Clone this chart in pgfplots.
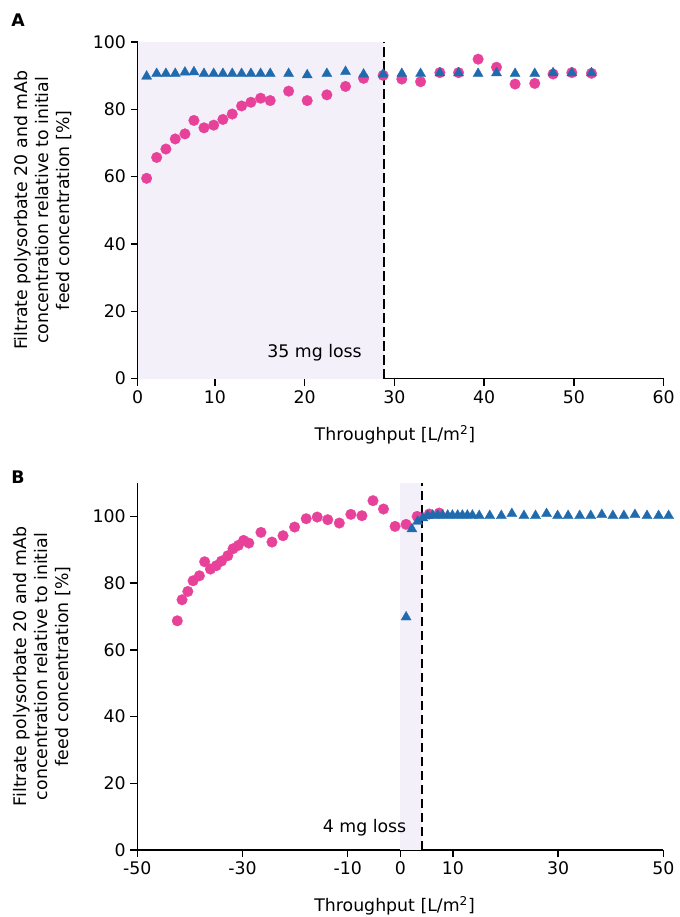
\documentclass[border=0pt]{standalone}
\usepackage{fontspec}
\setmainfont{DejaVu Sans}
\usepackage{pgfplots}
\pgfplotsset{compat=1.18}
\definecolor{cpink}{HTML}{E8419A}
\definecolor{cblue}{HTML}{1F6BAD}
\definecolor{cshade}{HTML}{F3F0FA}
\newcommand{\fs}{\fontsize{13pt}{15.75pt}\selectfont}
\tikzset{dashln/.style={black, line width=1.3pt, dash pattern=on 7pt off 3.5pt}}
\pgfplotsset{
  panel/.style={
    scale only axis,
    width=394.5pt,
    axis x line*=bottom,
    axis y line*=left,
    axis line style={line width=1.1pt, black},
    tick style={line width=1.1pt, black},
    tick align=outside,
    major tick length=5.25pt,
    xtick pos=bottom, ytick pos=left,
    every tick label/.append style={font=\fs},
    clip=false,
    ylabel={Filtrate polysorbate 20 and mAb\\concentration relative to initial\\feed concentration [\%]},
    ylabel style={font=\fs, align=center, at={(axis description cs:-0.117,0.5)}, anchor=south},
    xlabel={Throughput [L/m\textsuperscript{2}]},
    xlabel style={font=\fs, at={(axis description cs:0.489,0)}, anchor=center, yshift=-42pt},
  },
  pinkpts/.style={only marks, mark=*, mark size=4.0pt, color=cpink, mark options={line width=0.2pt}},
  bluepts/.style={only marks, mark=triangle*, mark size=4.4pt, color=cblue, mark options={line width=0.2pt}},
}
\begin{document}
\begin{tikzpicture}
\path[use as bounding box] (0,0) rectangle (510pt,-687.75pt);
% Panel A
\begin{axis}[panel,
  at={(103.3pt,-283.95pt)}, anchor=south west,
  height=252.45pt,
  xmin=1.4, xmax=60, ymin=0, ymax=100,
  xtick={1.4,10,20,30,40,50,60}, xticklabels={0,10,20,30,40,50,60},
  ytick={0,20,40,60,80,100}, yticklabels={0,20,40,60,80,100},
]
\addplot[fill=cshade, draw=none] coordinates {(1.4,0) (28.85,0) (28.85,100) (1.4,100)} -- cycle;
\draw[dashln] (axis cs:28.85,0) -- (axis cs:28.85,100);
\node[font=\fs] at (axis cs:21.1,7.6) {35 mg loss};
\addplot[pinkpts] coordinates {
(2.39,59.5)(3.51,65.7)(4.54,68.2)(5.58,71.2)(6.66,72.7)(7.66,76.7)(8.78,74.5)(9.86,75.3)
(10.89,77.0)(11.93,78.6)(12.97,81.0)(14.01,82.1)(15.09,83.3)(16.16,82.6)(18.21,85.4)(20.28,82.6)
(22.47,84.3)(24.55,86.8)(26.56,89.2)(28.74,90.1)(30.82,89.0)(32.91,88.2)(35.06,90.9)(37.14,90.9)
(39.32,94.9)(41.37,92.5)(43.44,87.5)(45.63,87.7)(47.67,90.5)(49.76,90.9)(51.95,90.7)
};
\addplot[bluepts] coordinates {
(2.39,89.8)(3.51,90.6)(4.54,90.6)(5.58,90.6)(6.66,91.0)(7.66,91.1)(8.78,90.6)(9.86,90.6)
(10.89,90.6)(11.93,90.6)(12.97,90.6)(14.01,90.6)(15.09,90.6)(16.16,90.6)(18.21,90.6)(20.28,90.2)
(22.47,90.6)(24.55,91.2)(26.56,90.4)(28.74,90.4)(30.82,90.6)(32.91,90.6)(35.06,90.8)(37.14,90.8)
(39.32,90.6)(41.37,90.8)(43.44,90.6)(45.63,90.6)(47.67,90.8)(49.76,90.8)(51.95,90.8)
};
\end{axis}
% Panel B
\begin{axis}[panel,
  at={(103.0pt,-637.5pt)}, anchor=south west,
  height=275.25pt,
  xmin=-50, xmax=50, ymin=0, ymax=110,
  xtick={-50,-30,-10,0,10,30,50}, xticklabels={-50,-30,-10,0,10,30,50},
  ytick={0,20,40,60,80,100}, yticklabels={0,20,40,60,80,100},
]
\addplot[fill=cshade, draw=none] coordinates {(0,0) (4.15,0) (4.15,110) (0,110)} -- cycle;
\draw[dashln] (axis cs:4.15,0) -- (axis cs:4.15,110);
\node[font=\fs] at (axis cs:-6.8,6.6) {4 mg loss};
\addplot[pinkpts] coordinates {
(-42.4,68.7)(-41.5,75.0)(-40.4,77.5)(-39.4,80.7)(-38.2,82.2)(-37.2,86.4)(-36.1,84.2)(-35.0,85.2)
(-34.0,86.6)(-32.8,88.2)(-31.8,90.3)(-30.8,91.3)(-29.8,92.8)(-28.8,92.0)(-26.5,95.2)(-24.4,92.3)
(-22.3,94.2)(-20.1,96.8)(-17.9,99.3)(-15.8,99.8)(-13.8,99.0)(-11.6,98.0)(-9.4,100.6)(-7.3,100.2)
(-5.2,104.7)(-3.2,102.2)(-1.0,97.0)(1.1,97.6)(3.2,100.0)(5.5,100.7)(7.4,101.0)
};
\addplot[bluepts] coordinates {
(1.1,69.8)(2.2,96.2)(3.3,98.5)(4.3,99.5)(5.2,100.2)(6.15,100.3)(7.1,100.3)(8.0,100.3)(9.0,100.3)
(9.9,100.3)(10.9,100.3)(11.8,100.3)(12.75,100.3)(13.7,100.3)(15.0,100.2)(17.0,100.2)(19.2,100.2)
(21.2,100.8)(23.5,100.2)(25.7,100.2)(27.8,100.8)(29.9,100.2)(31.9,100.2)(34.1,100.2)(36.2,100.2)
(38.3,100.5)(40.4,100.2)(42.5,100.2)(44.6,100.5)(46.9,100.2)(49.1,100.2)(51.0,100.2)
};
\end{axis}
\node[font=\fs\bfseries] at (13.5pt,-15pt) {A};
\node[font=\fs\bfseries] at (13.5pt,-357.75pt) {B};
\end{tikzpicture}
\end{document}
